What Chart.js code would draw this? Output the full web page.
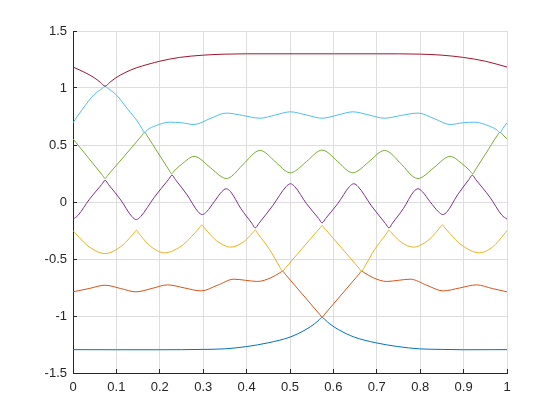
<!DOCTYPE html>
<html><head><meta charset="utf-8">
<script src="https://cdn.jsdelivr.net/npm/chart.js@4.4.1/dist/chart.umd.min.js"></script>
<style>html,body{margin:0;padding:0;background:#fff;}#wrap{width:560px;height:420px;}</style>
</head><body><div id="wrap"><canvas id="c" width="560" height="420"></canvas></div>
<script>
// ---- tick values / labels ----
const xTicks = [0, 0.1, 0.2, 0.3, 0.4, 0.5, 0.6, 0.7, 0.8, 0.9, 1];
const xTickLabels = ['0', '0.1', '0.2', '0.3', '0.4', '0.5', '0.6', '0.7', '0.8', '0.9', '1'];
const yTicks = [-1.5, -1, -0.5, 0, 0.5, 1, 1.5];
const yTickLabels = ['-1.5', '-1', '-0.5', '0', '0.5', '1', '1.5'];

// ---- series 1 (lowest) ----
const s1x = [0, 0.1, 0.2, 0.3, 0.35, 0.4, 0.45, 0.5, 0.537, 0.556, 0.568, 0.574, 0.58, 0.592, 0.611, 0.648, 0.698, 0.748, 0.798, 0.848, 0.9, 1];
const s1y = [-1.295, -1.296, -1.296, -1.293, -1.288, -1.268, -1.235, -1.185, -1.118, -1.07, -1.03, -1.01, -1.03, -1.07, -1.118, -1.185, -1.235, -1.268, -1.288, -1.293, -1.296, -1.295];

// ---- series 2 ----
const s2x = [0, 0.037, 0.074, 0.11, 0.145, 0.182, 0.218, 0.257, 0.295, 0.333, 0.371, 0.398, 0.425, 0.456, 0.477, 0.483, 0.489, 0.53, 0.568, 0.574, 0.58, 0.618, 0.659, 0.665, 0.671, 0.692, 0.723, 0.75, 0.777, 0.815, 0.853, 0.891, 0.93, 0.966, 1];
const s2y = [-0.788, -0.759, -0.73, -0.759, -0.788, -0.758, -0.727, -0.754, -0.78, -0.73, -0.677, -0.687, -0.697, -0.665, -0.62, -0.607, -0.633, -0.815, -0.984, -1.01, -0.984, -0.815, -0.633, -0.607, -0.62, -0.665, -0.697, -0.687, -0.677, -0.73, -0.78, -0.754, -0.727, -0.759, -0.788];

// ---- series 3 ----
const s3x = [0, 0.0037, 0.0148, 0.037, 0.074, 0.11, 0.1316, 0.1424, 0.146, 0.1492, 0.159, 0.1785, 0.211, 0.254, 0.2798, 0.2927, 0.297, 0.3004, 0.3104, 0.3305, 0.364, 0.392, 0.4088, 0.4172, 0.42, 0.425, 0.453, 0.477, 0.483, 0.489, 0.528, 0.566, 0.57, 0.574, 0.578, 0.582, 0.62, 0.659, 0.665, 0.671, 0.695, 0.723, 0.728, 0.7308, 0.7392, 0.756, 0.784, 0.8175, 0.8376, 0.8476, 0.851, 0.8553, 0.8682, 0.894, 0.937, 0.9685, 0.9874, 0.9969, 1];
const s3y = [-0.25, -0.266, -0.313, -0.393, -0.452, -0.392, -0.311, -0.263, -0.247, -0.2625, -0.309, -0.388, -0.446, -0.374, -0.276, -0.219, -0.2, -0.215, -0.261, -0.339, -0.396, -0.352, -0.292, -0.257, -0.245, -0.273, -0.417, -0.573, -0.607, -0.581, -0.408, -0.241, -0.224, -0.206, -0.224, -0.241, -0.408, -0.581, -0.607, -0.573, -0.417, -0.273, -0.245, -0.257, -0.292, -0.352, -0.396, -0.339, -0.261, -0.215, -0.2, -0.219, -0.276, -0.374, -0.446, -0.389, -0.311, -0.265, -0.25];

// ---- series 4 ----
const s4x = [0, 0.012, 0.037, 0.066, 0.074, 0.082, 0.11, 0.136, 0.146, 0.156, 0.187, 0.22, 0.228, 0.236, 0.263, 0.288, 0.298, 0.308, 0.3255, 0.343, 0.353, 0.363, 0.3865, 0.412, 0.42, 0.428, 0.46, 0.491, 0.501, 0.511, 0.5375, 0.566, 0.574, 0.582, 0.6105, 0.637, 0.647, 0.657, 0.6875, 0.72, 0.728, 0.736, 0.7615, 0.785, 0.795, 0.805, 0.8225, 0.842, 0.852, 0.862, 0.886, 0.912, 0.92, 0.928, 0.961, 0.988, 1];
const s4y = [-0.152, -0.115, 0.02, 0.153, 0.19, 0.152, 0.018, -0.129, -0.154, -0.127, 0.04, 0.197, 0.235, 0.196, 0.062, -0.085, -0.11, -0.085, 0.003, 0.091, 0.116, 0.091, -0.056, -0.186, -0.227, -0.189, -0.033, 0.135, 0.16, 0.135, -0.012, -0.145, -0.183, -0.145, -0.012, 0.135, 0.16, 0.135, -0.033, -0.189, -0.227, -0.186, -0.056, 0.091, 0.116, 0.091, 0.003, -0.085, -0.11, -0.085, 0.062, 0.196, 0.235, 0.197, 0.04, -0.115, -0.15];

// ---- series 5 ----
const s5x = [0, 0.037, 0.068, 0.074, 0.08, 0.12, 0.159, 0.165, 0.171, 0.196, 0.221, 0.227, 0.233, 0.253, 0.279, 0.316, 0.341, 0.353, 0.365, 0.392, 0.431, 0.466, 0.489, 0.501, 0.513, 0.538, 0.574, 0.61, 0.633, 0.645, 0.657, 0.682, 0.718, 0.757, 0.783, 0.795, 0.807, 0.832, 0.869, 0.895, 0.915, 0.921, 0.927, 0.952, 0.977, 0.984, 0.99, 1];
const s5y = [0.554, 0.38, 0.234, 0.206, 0.234, 0.41, 0.585, 0.612, 0.58, 0.43, 0.282, 0.247, 0.272, 0.34, 0.40, 0.303, 0.224, 0.206, 0.224, 0.33, 0.452, 0.354, 0.274, 0.256, 0.274, 0.355, 0.455, 0.355, 0.274, 0.256, 0.274, 0.354, 0.452, 0.33, 0.224, 0.206, 0.224, 0.303, 0.40, 0.34, 0.272, 0.247, 0.282, 0.43, 0.58, 0.612, 0.59, 0.554];

// ---- series 6 ----
const s6x = [0, 0.021, 0.049, 0.068, 0.074, 0.08, 0.099, 0.127, 0.148, 0.159, 0.165, 0.171, 0.19, 0.222, 0.25, 0.279, 0.315, 0.353, 0.39, 0.431, 0.466, 0.501, 0.538, 0.574, 0.61, 0.645, 0.682, 0.718, 0.757, 0.795, 0.833, 0.869, 0.898, 0.926, 0.958, 0.977, 0.984, 0.99, 1];
const s6y = [0.695, 0.81, 0.943, 0.998, 1.016, 0.998, 0.943, 0.81, 0.71, 0.643, 0.607, 0.632, 0.668, 0.70, 0.695, 0.68, 0.73, 0.78, 0.76, 0.735, 0.763, 0.791, 0.763, 0.735, 0.763, 0.791, 0.763, 0.735, 0.76, 0.78, 0.73, 0.68, 0.695, 0.70, 0.668, 0.632, 0.607, 0.643, 0.695];

// ---- series 7 (highest) ----
const s7x = [0, 0.028, 0.049, 0.063, 0.074, 0.085, 0.099, 0.12, 0.146, 0.175, 0.2, 0.245, 0.3, 0.35, 0.4, 0.5, 0.6, 0.7, 0.8, 0.85, 0.9, 0.95, 1];
const s7y = [1.184, 1.135, 1.09, 1.05, 1.016, 1.05, 1.09, 1.135, 1.177, 1.21, 1.235, 1.268, 1.288, 1.297, 1.30, 1.30, 1.30, 1.30, 1.297, 1.288, 1.268, 1.235, 1.184];

const seriesX = [s1x, s2x, s3x, s4x, s5x, s6x, s7x];
const seriesY = [s1y, s2y, s3y, s4y, s5y, s6y, s7y];
const colors = ['#0072BD', '#D95319', '#EDB120', '#7E2F8E', '#77AC30', '#4DBEEE', '#A2142F'];

const datasets = seriesX.map((xs, i) => ({
  data: xs.map((x, k) => ({ x: x, y: seriesY[i][k] })),
  borderColor: colors[i],
  borderWidth: 1,
  pointRadius: 0,
  fill: false,
  cubicInterpolationMode: 'monotone',
  order: 7 - i
}));

Chart.defaults.font.family = '"Liberation Sans", Arial, Helvetica, sans-serif';
Chart.defaults.font.size = 13;
Chart.defaults.color = '#262626';

const axisColor = '#262626';
const gridColor = '#dedede';

new Chart(document.getElementById('c'), {
  type: 'line',
  data: { datasets: datasets },
  options: {
    responsive: false,
    animation: false,
    devicePixelRatio: 1,
    layout: { padding: { left: 0, top: 31, right: 53, bottom: 0 } },
    plugins: { legend: { display: false }, tooltip: { enabled: false } },
    scales: {
      x: {
        type: 'linear', min: 0, max: 1,
        afterBuildTicks: s => { s.ticks = xTicks.map(v => ({ value: v })); },
        afterFit: s => { s.height = 47; },
        ticks: { callback: (v, i) => xTickLabels[i], padding: 11, maxRotation: 0, autoSkip: false, color: axisColor },
        grid: { color: gridColor, lineWidth: 1, tickColor: axisColor, tickLength: -4, drawTicks: true },
        border: { display: true, color: axisColor, width: 1 }
      },
      y: {
        type: 'linear', min: -1.5, max: 1.5,
        afterBuildTicks: s => { s.ticks = yTicks.map(v => ({ value: v })); },
        afterFit: s => { s.width = 73; },
        ticks: { callback: (v, i) => yTickLabels[i], padding: 10, autoSkip: false, color: axisColor },
        grid: { color: gridColor, lineWidth: 1, tickColor: axisColor, tickLength: -4, drawTicks: true },
        border: { display: true, color: axisColor, width: 1 }
      }
    }
  }
});
</script></body></html>
